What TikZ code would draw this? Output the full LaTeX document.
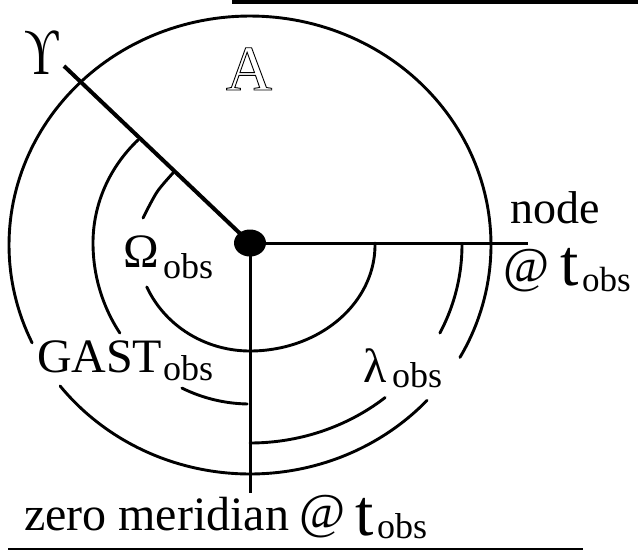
\documentclass[tikz,border=0pt]{standalone}
\usetikzlibrary{shapes.geometric}
\usepackage{fontspec}
\setmainfont{Liberation Serif}
\newcommand{\fz}[1]{\fontsize{#1}{#1}\selectfont}
\newcommand{\outlinetext}[1]{\special{pdf:code q 1 Tr 0.9 w}#1\special{pdf:code Q 0 Tr}}
\tikzset{
  arcline/.style={line width=2.9pt,line cap=round},
  spoke/.style={line width=3pt},
  lbl/.style={anchor=base west,inner sep=0pt,outer sep=0pt},
}
\begin{document}
\begin{tikzpicture}[x=1pt,y=-1pt]
\useasboundingbox (0,0) rectangle (638,550);
% rules
\fill (232,0) rectangle (638,4);
\fill (8,548) rectangle (583,550);
% centre and spoke ends
\node[ellipse,fill=black,minimum width=32pt,minimum height=27pt,inner sep=0pt] (dot) at (250,243) {};
\coordinate (gammaend) at (64,66);
\coordinate (nodeend) at (528,243);
\coordinate (zeroend) at (250,493);
\draw[line width=4pt] (dot.center) -- (gammaend);
\draw[spoke] (dot.center) -- (nodeend);
\draw[spoke] (dot.center) -- (zeroend);
% outer circle
\draw[arcline] plot[domain=154.7:389.4,samples=150] ({250+241*cos(\x)},{245+229*sin(\x)});
\draw[arcline] plot[domain=42.7:142,samples=80] ({250+241*cos(\x)},{245+229*sin(\x)});
% GAST arc
\draw[arcline] plot[domain=224.5:180,samples=40] ({250+157*cos(\x)},{243+147*sin(\x)})
  -- plot[domain=180:146,samples=40] ({250+157*cos(\x)},{243+161*sin(\x)});
\draw[arcline] plot[domain=115.7:91,samples=30] ({250+157*cos(\x)},{243+161*sin(\x)});
% Omega arc
\draw[arcline] plot[smooth] coordinates {(173,173) (157,192) (143,218)};
\draw[arcline] plot[domain=156:90,samples=60] ({250+113*cos(\x)},{243+108*sin(\x)})
  -- plot[domain=90:-1,samples=80] ({250+125*cos(\x)},{245+106*sin(\x)});
% lambda arc
\draw[arcline] plot[domain=-0.5:26.4,samples=30] ({250+212*cos(\x)},{245+198*sin(\x)});
\draw[arcline] plot[domain=50.4:90,samples=40] ({250+212*cos(\x)},{245+198*sin(\x)});
% labels
\node[lbl,xscale=.72,transform shape] (gamma) at (24,74) {\fz{66}ϒ};
\node[lbl] (aries) at (226,90) {\fz{64}\outlinetext{A}};
\node[lbl] (nodelbl) at (510,223) {\fz{46}node};
\node[lbl] (at1) at (503,282) {\fz{50}@};
\node[lbl] (t1) at (560,285) {\fz{66}t};
\node[lbl] (obs1) at (582,291) {\fz{35}obs};
\node[lbl] (omega) at (123,267) {\fz{48}Ω};
\node[lbl] (obs2) at (163,278) {\fz{36}obs};
\node[lbl] (gast) at (37,372) {\fz{48}GAST};
\node[lbl] (obs3) at (163,380) {\fz{36}obs};
\node[lbl] (lam) at (363,382) {\fz{48}λ};
\node[lbl] (obs4) at (392,387) {\fz{36}obs};
\node[lbl] (zero) at (24,530) {\fz{48}zero meridian};
\node[lbl] (at2) at (299,528) {\fz{50}@};
\node[lbl] (t2) at (355,535) {\fz{66}t};
\node[lbl] (obs5) at (377,538) {\fz{36}obs};
\end{tikzpicture}
\end{document}
